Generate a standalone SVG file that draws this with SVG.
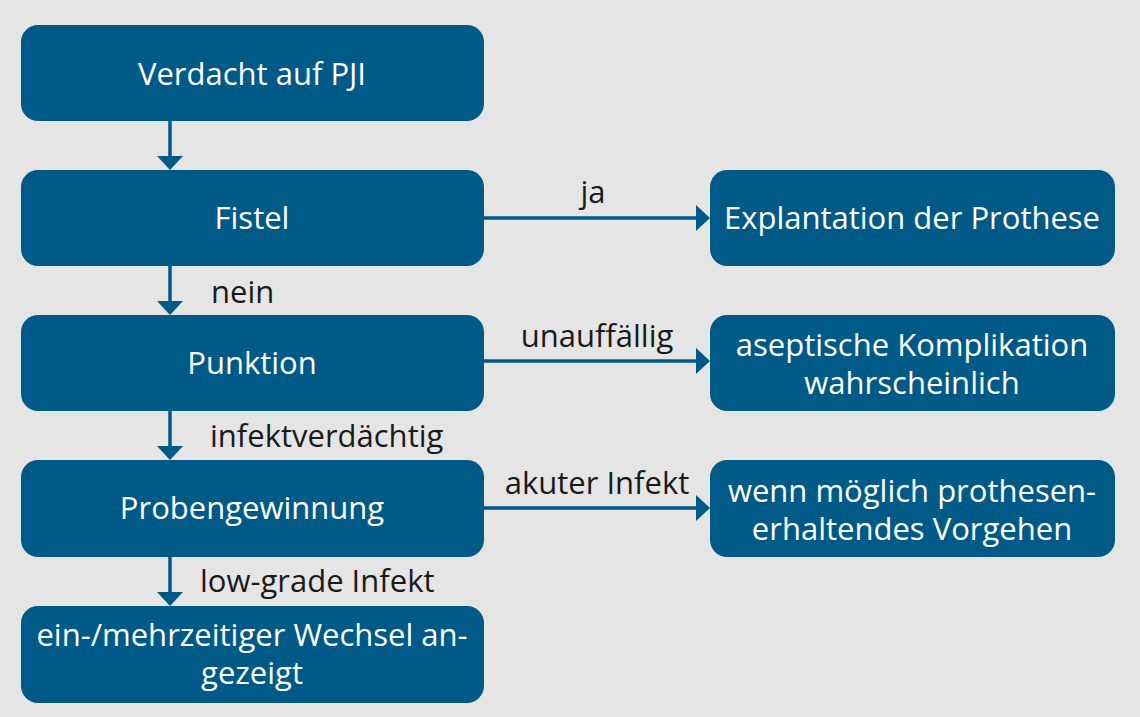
<svg xmlns="http://www.w3.org/2000/svg" width="1140" height="717" viewBox="0 0 1140 717">
<style>
.node rect{fill:#005a87}
.node text{fill:#ffffff;font-family:"Open Sans","Noto Sans",sans-serif;font-size:31px;text-anchor:middle}
.lbl{fill:#1a1a1a;font-family:"Open Sans","Noto Sans",sans-serif;font-size:31px}
.conn line{stroke:#005a87;stroke-width:3.5}
.conn polygon{fill:#005a87}
</style>
<rect width="1140" height="717" fill="#e5e5e5"/>
<g id="n1" class="node"><rect x="21" y="25" width="463" height="96" rx="17"/><text x="252" y="85">Verdacht auf PJI</text></g>
<g id="n2" class="node"><rect x="21" y="170" width="463" height="96" rx="17"/><text x="252" y="229">Fistel</text></g>
<g id="n3" class="node"><rect x="21" y="315" width="463" height="96" rx="17"/><text x="252" y="374">Punktion</text></g>
<g id="n4" class="node"><rect x="21" y="460" width="463" height="97" rx="17"/><text x="252" y="519">Probengewinnung</text></g>
<g id="n5" class="node"><rect x="21" y="606" width="463" height="97" rx="17"/><text x="252" y="646">ein-/mehrzeitiger Wechsel an-</text><text x="252" y="684">gezeigt</text></g>
<g id="r1" class="node"><rect x="710" y="170" width="405" height="96" rx="17"/><text x="912" y="229">Explantation der Prothese</text></g>
<g id="r2" class="node"><rect x="710" y="315" width="405" height="96" rx="17"/><text x="912" y="356">aseptische Komplikation</text><text x="912" y="394">wahrscheinlich</text></g>
<g id="r3" class="node"><rect x="710" y="460" width="405" height="97" rx="17"/><text x="912" y="502">wenn möglich prothesen-</text><text x="912" y="540">erhaltendes Vorgehen</text></g>
<g id="connectors" class="conn">
<line x1="170" y1="121" x2="170" y2="157"/><polygon points="157,156 183,156 170,170"/>
<line x1="170" y1="266" x2="170" y2="302"/><polygon points="157,301 183,301 170,315"/>
<line x1="170" y1="411" x2="170" y2="447"/><polygon points="157,446 183,446 170,460"/>
<line x1="170" y1="557" x2="170" y2="593"/><polygon points="157,592 183,592 170,606"/>
<line x1="484" y1="218" x2="697" y2="218"/><polygon points="696,205 696,231 710,218"/>
<line x1="484" y1="361" x2="697" y2="361"/><polygon points="696,348 696,374 710,361"/>
<line x1="484" y1="508" x2="697" y2="508"/><polygon points="696,495 696,521 710,508"/>
</g>
<g id="labels">
<text class="lbl" x="593" y="203" text-anchor="middle">ja</text>
<text class="lbl" x="211" y="303">nein</text>
<text class="lbl" x="597" y="347" text-anchor="middle">unauffällig</text>
<text class="lbl" x="210" y="447">infektverdächtig</text>
<text class="lbl" x="597" y="494" text-anchor="middle">akuter Infekt</text>
<text class="lbl" x="200" y="592">low-grade Infekt</text>
</g>
</svg>
